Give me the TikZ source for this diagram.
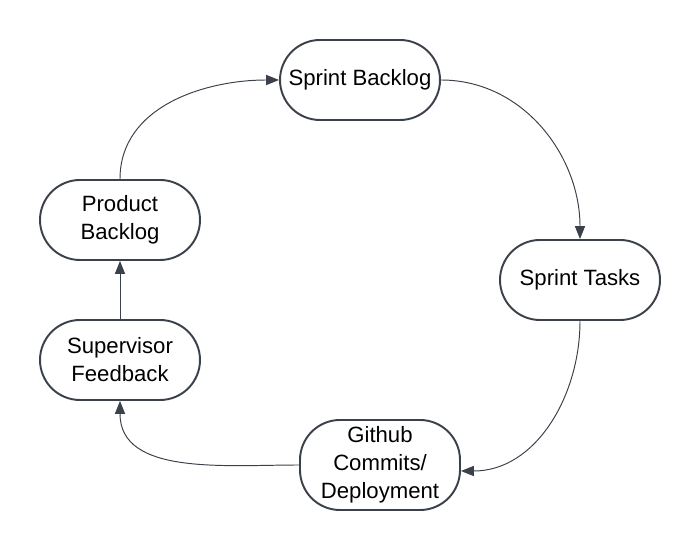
\documentclass[tikz,border=0pt]{standalone}
\usepackage{fontspec}
\setmainfont{Liberation Sans}
\usetikzlibrary{arrows.meta}
\definecolor{linegray}{HTML}{3A414A}

\begin{document}
\begin{tikzpicture}[
		stage/.style={draw=linegray, line width=1.1pt, rounded corners=0.8cm, minimum width=3.2cm, minimum height=1.6cm, align=center, font=\fontsize{12.6}{15.9}\selectfont},
		flow/.style={draw=linegray, line width=0.55pt, -{Triangle[length=7.4pt,width=5.8pt]}}
	]
			\useasboundingbox (0, 0) rectangle (14, 11);		% page frame
			
			% drawing stages
			\node[stage] (sprintbacklog) at (7.2, 9.4) {Sprint Backlog};
			\node[stage] (sprinttasks) at (11.6, 5.4) {Sprint Tasks};
			\node[stage, minimum height=1.8cm] (github) at (7.6, 1.7) {Github\\Commits/\\Deployment};
			\node[stage] (feedback) at (2.4, 3.8) {Supervisor\\Feedback};
			\node[stage] (productbacklog) at (2.4, 6.6) {Product\\Backlog};
			
			% drawing cycle
			\draw[flow] (productbacklog.north) to[out=90, in=180] (sprintbacklog.west);
			\draw[flow] (sprintbacklog.east) to[out=0, in=90] (sprinttasks.north);
			\draw[flow] (sprinttasks.south) to[out=-90, in=0] ([yshift=-0.12cm]github.east);
			\draw[flow] (github.west) to[out=180, in=-90] (feedback.south);
			\draw[flow] (feedback.north) -- (productbacklog.south);
			
		\end{tikzpicture}
\end{document}
